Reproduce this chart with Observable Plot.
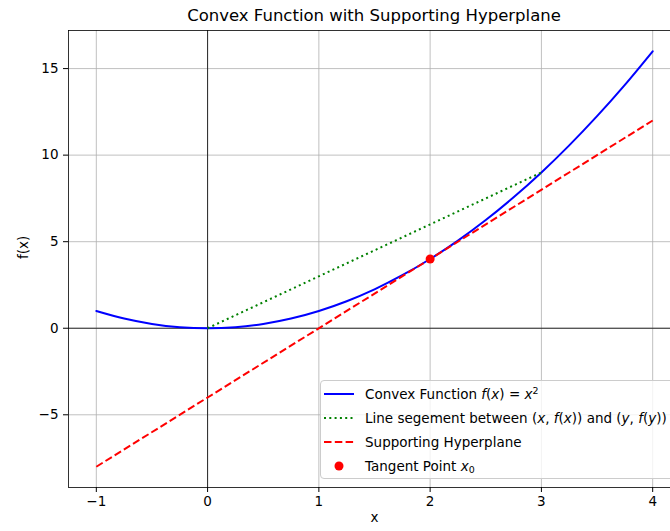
<!DOCTYPE html>
<html>
<head>
<meta charset="utf-8">
<script src="https://cdn.jsdelivr.net/npm/d3@7"></script>
<script src="https://cdn.jsdelivr.net/npm/@observablehq/plot@0.6"></script>
<style>
  html, body { margin: 0; padding: 0; overflow: hidden; background: #fff; }
  #wrap { position: relative; width: 670px; height: 531px; overflow: hidden; font-family: "DejaVu Sans", sans-serif; color: #000; }
  #title { position: absolute; left: 68px; width: 612px; top: 3px; line-height: 26px; text-align: center; font-size: 16.5px; }
  #chart { position: absolute; left: 0; top: 0; width: 690px; height: 531px; }
  #chart svg { max-width: none !important; width: 690px; height: 531px; }
  #legend { position: absolute; left: 320px; top: 380px; width: 360px; height: 99px; box-sizing: border-box;
            border: 1px solid #cccccc; border-radius: 4px; background: rgba(255,255,255,0.8); }
  .row { position: absolute; left: 0; height: 24px; width: 360px; }
  .row svg { position: absolute; left: 2px; top: 0; }
  .row span.t { position: absolute; left: 44px; top: 0; line-height: 24px; font-size: 13.5px; white-space: nowrap; }
  i { font-style: italic; }
  .sup { font-size: 70%; position: relative; top: -0.5em; }
  .sub { font-size: 70%; position: relative; top: 0.25em; }
</style>
</head>
<body>
<div id="wrap">
  <div id="chart"></div>
  <div id="title">Convex Function with Supporting Hyperplane</div>
  <div id="legend"></div>
</div>
<script>
// Data
const curveX = [-1, -0.75, -0.5, -0.25, 0, 0.25, 0.5, 0.75, 1, 1.25, 1.5, 1.75, 2, 2.25, 2.5, 2.75, 3, 3.25, 3.5, 3.75, 4];
const curveY = [1, 0.5625, 0.25, 0.0625, 0, 0.0625, 0.25, 0.5625, 1, 1.5625, 2.25, 3.0625, 4, 5.0625, 6.25, 7.5625, 9, 10.5625, 12.25, 14.0625, 16];
const segmentX = [0, 3];
const segmentY = [0, 9];
const tangentX = [-1, 4];
const tangentY = [-8, 12];
const pointX = [2];
const pointY = [4];
const xTicks = [-1, 0, 1, 2, 3, 4];
const yTicks = [-5, 0, 5, 10, 15];

const curve = curveX.map((x, i) => ({x, y: curveY[i]}));
const segment = segmentX.map((x, i) => ({x, y: segmentY[i]}));
const tangent = tangentX.map((x, i) => ({x, y: tangentY[i]}));
const point = pointX.map((x, i) => ({x, y: pointY[i]}));

const chart = Plot.plot({
  width: 690,
  height: 531,
  marginLeft: 68,
  marginRight: 10,
  marginTop: 30,
  marginBottom: 44,
  style: { fontFamily: "DejaVu Sans, sans-serif", fontSize: "13.5px", color: "#000", background: "transparent", overflow: "visible", maxWidth: "none" },
  x: { domain: [-1.25, 4.25], ticks: xTicks, tickSize: 5, tickPadding: 4, label: null, tickFormat: d => d < 0 ? "\u2212" + Math.abs(d) : String(d) },
  y: { domain: [-9.2, 17.2], ticks: yTicks, tickSize: 5, tickPadding: 5, label: null, tickFormat: d => d < 0 ? "\u2212" + Math.abs(d) : String(d) },
  marks: [
    Plot.ruleX(xTicks, { stroke: "#b0b0b0", strokeWidth: 0.8 }),
    Plot.ruleY(yTicks, { stroke: "#b0b0b0", strokeWidth: 0.8 }),
    Plot.ruleY([0], { stroke: "#000", strokeWidth: 0.8 }),
    Plot.ruleX([0], { stroke: "#000", strokeWidth: 0.8 }),
    Plot.line(curve, { x: "x", y: "y", stroke: "#0000ff", strokeWidth: 2, curve: "catmull-rom" }),
    Plot.line(segment, { x: "x", y: "y", stroke: "#008000", strokeWidth: 2, strokeDasharray: "2,3.3", strokeLinecap: "butt" }),
    Plot.line(tangent, { x: "x", y: "y", stroke: "#ff0000", strokeWidth: 2, strokeDasharray: "7.5,3.3", strokeLinecap: "butt" }),
    Plot.dot(point, { x: "x", y: "y", r: 4.5, fill: "#ff0000", stroke: null }),
    Plot.frame({ stroke: "#000", strokeWidth: 0.8 }),
    Plot.text(["x"], { frameAnchor: "bottom", dy: 34, text: d => d, fontSize: 13.5 }),
    Plot.text(["f(x)"], { frameAnchor: "left", dx: -45, rotate: -90, text: d => d, fontSize: 13.5 })
  ]
});
document.getElementById("chart").appendChild(chart);

// Legend
const legendItems = [
  { html: 'Convex Function <i>f</i>(<i>x</i>) = <i>x</i><span class="sup">2</span>', kind: "line", color: "#0000ff", dash: null },
  { html: 'Line segement between (<i>x</i>, <i>f</i>(<i>x</i>)) and (<i>y</i>, <i>f</i>(<i>y</i>))', kind: "line", color: "#008000", dash: "2,3.3" },
  { html: 'Supporting Hyperplane', kind: "line", color: "#ff0000", dash: "7.5,3.3" },
  { html: 'Tangent Point <i>x</i><span class="sub">0</span>', kind: "dot", color: "#ff0000" }
];
const legend = d3.select("#legend");
legendItems.forEach((item, i) => {
  const row = legend.append("div").attr("class", "row").style("top", (1 + i * 24) + "px");
  const svg = row.append("svg").attr("width", 32).attr("height", 24);
  if (item.kind === "line") {
    svg.append("line").attr("x1", 1).attr("x2", 31).attr("y1", 12).attr("y2", 12)
      .attr("stroke", item.color).attr("stroke-width", 2)
      .attr("stroke-dasharray", item.dash);
  } else {
    svg.append("circle").attr("cx", 16).attr("cy", 12).attr("r", 4.5).attr("fill", item.color);
  }
  row.append("span").attr("class", "t").html(item.html);
});
</script>
</body>
</html>
